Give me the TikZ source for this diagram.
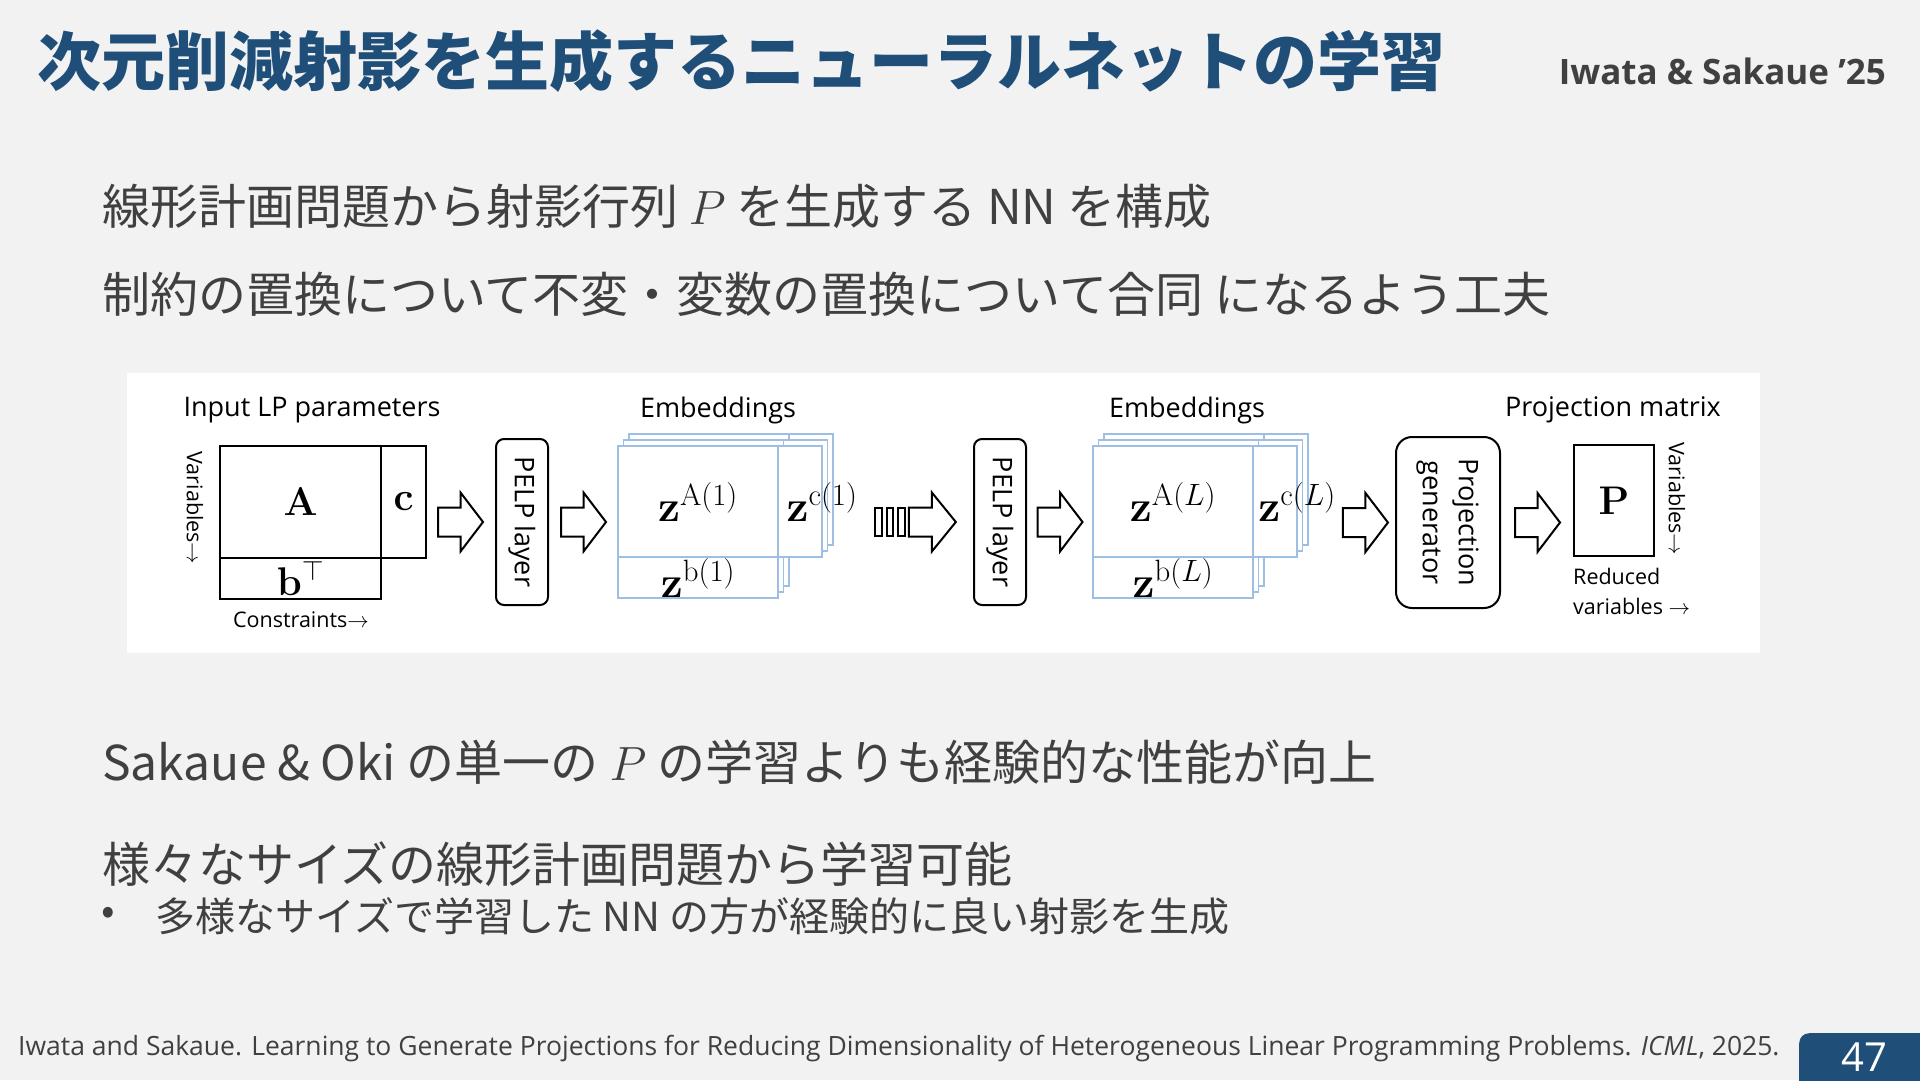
\RequirePackage{fix-cm}
\documentclass[tikz,border=0pt]{standalone}
\usepackage[no-math]{fontspec}
\usepackage{graphicx}
\setmainfont{Open Sans}
\newfontfamily\jpfont{Noto Sans CJK JP}
\usetikzlibrary{calc, positioning}

\definecolor{titleblue}{HTML}{1F4E79}
\definecolor{textgray}{HTML}{404040}
\definecolor{slidebg}{HTML}{F2F2F2}
\definecolor{embblue}{HTML}{9DBFE3}

\begin{document}
\begin{tikzpicture}[
    x=1pt, y=-1pt,
    mat/.style={draw, line width=2, inner sep=0, outer sep=0, fill=white},
    emb/.style={draw=embblue, line width=1.8, inner sep=0, outer sep=0, fill=white},
    symb/.style={inner sep=0, font=\fontsize{40}{44}\selectfont},
    zlbl/.style={inner sep=0, font=\fontsize{44}{48}\selectfont},
    layerbox/.style={draw, line width=2, rounded corners=8, inner sep=0, minimum width=52, minimum height=166, font=\fontsize{27}{36}\selectfont},
    head/.style={inner sep=0, font=\fontsize{27}{32}\selectfont},
    axislbl/.style={inner sep=0, font=\fontsize{21.5}{30}\selectfont},
    bodyline/.style={anchor=west, inner sep=0, text=textgray, font=\jpfont\fontsize{48}{58}\selectfont},
    arrowline/.style={draw, fill=white, line width=2, line join=miter},
    blockarrow/.pic={
        \draw[arrowline] (-22.5,-14.5) -- (0,-14.5) -- (0,-29.5) -- (22.5,0) -- (0,29.5) -- (0,14.5) -- (-22.5,14.5) -- cycle;
    },
    dasharrow/.pic={
        \foreach \bx in {-40,-28.5,-17}
            \draw[arrowline] (\bx,-14) rectangle ++(6.5,28);
        \draw[arrowline] (-6.5,-14.5) -- (16.5,-14.5) -- (16.5,-29.5) -- (40.5,0) -- (16.5,29.5) -- (16.5,14.5) -- (-6.5,14.5) -- cycle;
    }
]
\useasboundingbox (0,0) rectangle (1920,1080);
\fill[slidebg] (0,0) rectangle (1920,1080);

% Title
\node[anchor=west, inner sep=0, text=titleblue, font=\jpfont\bfseries\fontsize{64}{72}\selectfont] (title) at (37,61) {次元削減射影を生成するニューラルネットの学習};
\node[anchor=east, inner sep=0, text=textgray, font=\bfseries\fontsize{35}{40}\selectfont] (authors) at (1886,71) {Iwata \& Sakaue ’25};

% Body text
\node[bodyline] (l1) at (102,206) {線形計画問題から射影行列 $P$ を生成する NN を構成};
\node[bodyline] (l2) at (102,294) {制約の置換について不変・変数の置換について合同 になるよう工夫};
\node[bodyline] (l3) at (102,762) {Sakaue \& Oki の単一の $P$ の学習よりも経験的な性能が向上};
\node[bodyline] (l4) at (102,864) {様々なサイズの線形計画問題から学習可能};
\node[bodyline, anchor=center, font=\jpfont\fontsize{40}{46}\selectfont] (bul) at (108,916) {•};
\node[bodyline, font=\jpfont\fontsize{40}{46}\selectfont] (l5) at (155,916) {多様なサイズで学習した NN の方が経験的に良い射影を生成};

% Diagram panel
\fill[white] (127,373) rectangle (1760,653);

% Input LP parameters
\node[mat, minimum width=161, minimum height=112] (Abox) at (300.5,502) {};
\node[mat, minimum width=45, minimum height=112, anchor=west] (cbox) at (Abox.east) {};
\node[mat, minimum width=161, minimum height=41, anchor=north] (bbox) at (Abox.south) {};
\node[symb] (Atxt) at (Abox) {$\mathbf{A}$};
\node[symb] (ctxt) at (cbox) {$\mathbf{c}$};
\node[symb] (btxt) at (bbox) {$\mathbf{b}^{\top}$};
\node[head] (inlbl) at (312,410) {Input LP parameters};
\node[axislbl, rotate=-90] (varl) at (195,508) {Variables$\rightarrow$};
\node[axislbl] (conl) at (301,620) {Constraints$\rightarrow$};

\node[layerbox] (pelp1) at (522,522) {\rotatebox{-90}{PELP layer}};

% Embeddings after layer 1
\foreach \k in {2,1}
    \draw[emb, shift={(5.5*\k,-6*\k)}] (618,446) rectangle (778,557) (778,446) rectangle (822,557) (618,557) rectangle (778,598);
\node[emb, minimum width=160, minimum height=111] (zA1) at (698,501.5) {};
\node[emb, minimum width=44, minimum height=111, anchor=west] (zc1) at (zA1.east) {};
\node[emb, minimum width=160, minimum height=41, anchor=north] (zb1) at (zA1.south) {};
\node[zlbl] (zA1t) at (zA1) {$\mathbf{z}^{\mathrm{A}(1)}$};
\node[zlbl] (zb1t) at (zb1) {$\mathbf{z}^{\mathrm{b}(1)}$};
\node[zlbl] (zc1t) at (zc1.east) {$\mathbf{z}^{\mathrm{c}(1)}$};
\node[head] (emb1lbl) at (718,410) {Embeddings};

\node[layerbox] (pelp2) at (1000,522) {\rotatebox{-90}{PELP layer}};

% Embeddings after layer L
\foreach \k in {2,1}
    \draw[emb, shift={(5.5*\k,-6*\k)}] (1093,446) rectangle (1253,557) (1253,446) rectangle (1297,557) (1093,557) rectangle (1253,598);
\node[emb, minimum width=160, minimum height=111] (zA2) at (1173,501.5) {};
\node[emb, minimum width=44, minimum height=111, anchor=west] (zc2) at (zA2.east) {};
\node[emb, minimum width=160, minimum height=41, anchor=north] (zb2) at (zA2.south) {};
\node[zlbl] (zA2t) at (zA2) {$\mathbf{z}^{\mathrm{A}(L)}$};
\node[zlbl] (zb2t) at (zb2) {$\mathbf{z}^{\mathrm{b}(L)}$};
\node[zlbl] (zc2t) at (zc2.east) {$\mathbf{z}^{\mathrm{c}(L)}$};
\node[head] (emb2lbl) at (1187,410) {Embeddings};

\node[layerbox, minimum width=104, minimum height=171, rounded corners=16] (projgen) at (1448,522.5) {\rotatebox{-90}{\begin{tabular}{@{}c@{}}Projection\\generator\end{tabular}}};

% Projection matrix
\node[mat, minimum width=80, minimum height=111] (Pbox) at (1614,500.5) {};
\node[symb] (Ptxt) at (Pbox) {$\mathbf{P}$};
\node[head] (projlbl) at (1613,410) {Projection matrix};
\node[axislbl, rotate=-90] (pvarl) at (1677,499) {Variables$\rightarrow$};
\node[axislbl, align=left, anchor=north west] (redl) at (1573,568) {Reduced\\variables $\rightarrow$};

% Block arrows
\pic at ($(cbox.east |- pelp1.west)!.5!(pelp1.west)$) {blockarrow};
\pic at ($(pelp1.east)!.5!(zA1.west |- pelp1.east)$) {blockarrow};
\pic at ($(zc1t.east |- pelp2.west)!.5!(pelp2.west)$) {dasharrow};
\pic at ($(pelp2.east)!.5!(zA2.west |- pelp2.east)$) {blockarrow};
\pic at ($(zc2t.east |- projgen.west)!.5!(projgen.west)$) {blockarrow};
\pic at ($(projgen.east)!.5!(Pbox.west |- projgen.east)$) {blockarrow};

% Footer
\node[anchor=west, inner sep=0, text=textgray, font=\fontsize{26.5}{30}\selectfont] (cite) at (18,1049) {Iwata and Sakaue. Learning to Generate Projections for Reducing Dimensionality of Heterogeneous Linear Programming Problems. \textit{ICML}, 2025.};
\node[fill=titleblue, rounded corners=10, minimum width=141, minimum height=67, anchor=north west, inner sep=0] (pgbox) at (1799,1033) {};
\node[inner sep=0, text=white, font=\fontsize{40}{44}\selectfont] (pgnum) at (1864,1057) {47};
\end{tikzpicture}
\end{document}
